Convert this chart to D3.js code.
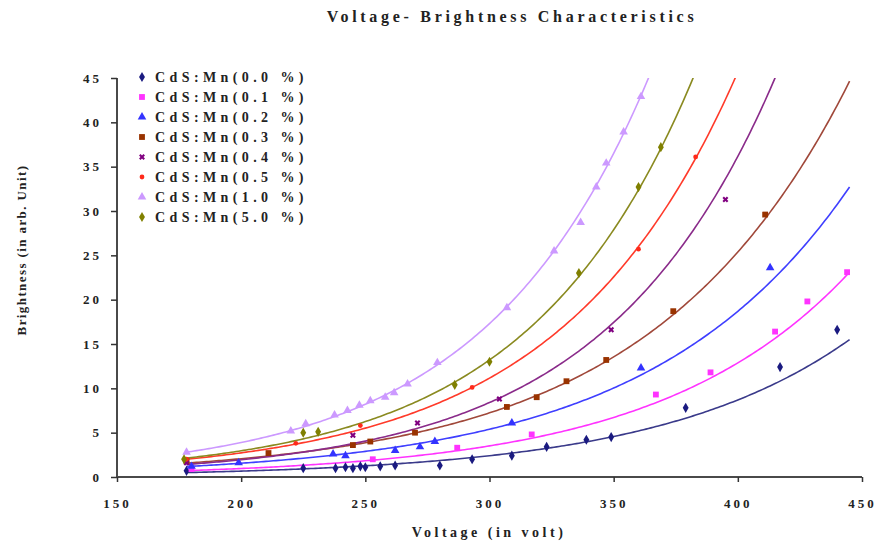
<!DOCTYPE html>
<html>
<head>
<meta charset="utf-8">
<script src="https://cdn.jsdelivr.net/npm/d3@7/dist/d3.min.js"></script>
<style>
  html, body { margin: 0; padding: 0; background: #fff; }
  svg text { font-family: "Liberation Serif", "Times New Roman", serif; font-weight: bold; fill: #222; }
</style>
</head>
<body>
<svg id="chart" width="877" height="543"></svg>
<script>
// Series labels (Mn doping level)
const seriesNames = ["CdS:Mn(0.0 %)", "CdS:Mn(0.1 %)", "CdS:Mn(0.2 %)", "CdS:Mn(0.3 %)",
                     "CdS:Mn(0.4 %)", "CdS:Mn(0.5 %)", "CdS:Mn(1.0 %)", "CdS:Mn(5.0 %)"];

// Measured brightness (arb. unit) against applied voltage (V), as [voltage, brightness]
const mn00 = [[178,0.7],[225,1.0],[238,1.0],[242,1.1],[245,1.0],[248,1.2],[250,1.1],[256,1.2],[262,1.3],
              [280,1.3],[293,2.0],[309,2.4],[323,3.4],[339,4.2],[349,4.5],[379,7.8],[417,12.4],[440,16.6]];
const mn01 = [[180,0.9],[253,2.0],[287,3.3],[317,4.8],[367,9.3],[389,11.8],[415,16.4],[428,19.8],[444,23.1]];
const mn02 = [[180,1.2],[199,1.6],[237,2.6],[242,2.4],[262,3.0],[272,3.4],[278,4.0],[309,6.1],[361,12.3],[413,23.6]];
const mn03 = [[178,1.8],[211,2.7],[245,3.6],[252,4.0],[270,5.0],[307,7.9],[319,9.0],[331,10.8],[347,13.2],[374,18.7],[411,29.6]];
const mn04 = [[178,1.6],[245,4.7],[271,6.1],[304,8.8],[349,16.6],[395,31.3]];
const mn05 = [[178,2.0],[222,3.8],[248,5.8],[293,10.1],[360,25.7],[383,36.1]];
const mn10 = [[178,2.8],[220,5.2],[226,6.0],[237.6,7.0],[242.8,7.5],[247.6,8.1],[252,8.6],[258,9.0],[261.6,9.5],
              [267,10.5],[279,12.9],[307,19.1],[326,25.5],[336.7,28.7],[343,32.7],[347,35.4],[354,38.9],[361,42.9]];
const mn50 = [[177,2.0],[225,5.0],[231,5.1],[286,10.4],[300,13.0],[336,23.0],[360,32.7],[369,37.2]];
const seriesData = [mn00, mn01, mn02, mn03, mn04, mn05, mn10, mn50];

// Exponential trendlines y = a * exp(b * V), drawn over the measured voltage span
const trendA = [0.0507, 0.0710, 0.1290, 0.1676, 0.1052, 0.1623, 0.1963, 0.1484];
const trendB = [0.01286, 0.0130, 0.01244, 0.01255, 0.0146, 0.0141, 0.01493, 0.01496];
const trendStart = 178;
const trendEnd = 445;

// Axis ticks
const xTicks = [150, 200, 250, 300, 350, 400, 450];
const yTicks = [0, 5, 10, 15, 20, 25, 30, 35, 40, 45];

// Styling
const colors = ["#1a1a80", "#ff33ff", "#3333ff", "#993300", "#800080", "#ff2a1a", "#cc99ff", "#808000"];
const lineColors = ["#3a3a8a", "#ff33ff", "#3f3fff", "#a0483a", "#8a2b8a", "#ff3a2a", "#cc99ff", "#8a8a20"];
const symbols = [d3.symbolDiamond, d3.symbolSquare, d3.symbolTriangle, d3.symbolSquare,
                 d3.symbolCross, d3.symbolCircle, d3.symbolTriangle, d3.symbolDiamond];
const symSizes = [30, 34, 32, 34, 22, 18, 32, 30];

const svg = d3.select("#chart");
const x = d3.scaleLinear().domain([150, 450]).range([117, 862]);
const y = d3.scaleLinear().domain([0, 45]).range([477, 78]);

// Plot clip region
svg.append("defs").append("clipPath").attr("id", "plotClip")
  .append("rect").attr("x", x(150)).attr("y", y(45)).attr("width", x(450) - x(150) + 2).attr("height", y(0) - y(45));

// Title
svg.append("text").attr("x", 512).attr("y", 22).attr("text-anchor", "middle")
  .style("font-size", "16px").style("letter-spacing", "3.7px")
  .text("Voltage- Brightness Characteristics");

// Axes
const xAxis = d3.axisBottom(x).tickValues(xTicks).tickSize(5).tickPadding(17);
const gx = svg.append("g").attr("transform", `translate(0,${y(0)})`).call(xAxis);
const yAxis = d3.axisLeft(y).tickValues(yTicks).tickSize(6).tickPadding(11);
const gy = svg.append("g").attr("transform", `translate(${x(150)},0)`).call(yAxis);
[gx, gy].forEach(g => {
  g.select(".domain").attr("stroke", "#4a4a4a").attr("stroke-width", 2);
  g.selectAll(".tick line").attr("stroke", "#333").attr("stroke-width", 1.5);
  g.selectAll(".tick text").style("font-family", "'Liberation Serif', serif")
    .style("font-weight", "bold").style("font-size", "13px").style("letter-spacing", "3px").attr("fill", "#333");
});
gx.select(".domain").attr("d", `M${x(150)},0H${x(450)}`);
gy.select(".domain").attr("d", `M0,${y(45)}V${y(0)}`);
gy.selectAll(".tick text").attr("dx", "2px");

// Axis titles
svg.append("text").attr("x", 489).attr("y", 537).attr("text-anchor", "middle")
  .style("font-size", "14px").style("letter-spacing", "3.5px").text("Voltage (in volt)");
svg.append("text").attr("transform", `translate(26,250) rotate(-90)`).attr("text-anchor", "middle")
  .style("font-size", "13px").style("letter-spacing", "1.4px").text("Brightness (in arb. Unit)");

// Trendlines
const plot = svg.append("g").attr("clip-path", "url(#plotClip)");
const line = d3.line().x(d => x(d[0])).y(d => y(d[1]));
seriesData.forEach((pts, i) => {
  const vEnd = Math.min(trendEnd, Math.log(46 / trendA[i]) / trendB[i]);
  const curve = d3.range(trendStart, vEnd + 1, 1).map(v => [v, trendA[i] * Math.exp(trendB[i] * v)]);
  plot.append("path").datum(curve).attr("d", line)
    .attr("fill", "none").attr("stroke", lineColors[i]).attr("stroke-width", 1.6);
});

// Data markers
seriesData.forEach((pts, i) => {
  plot.append("g").selectAll("path").data(pts).join("path")
    .attr("transform", d => `translate(${x(d[0])},${y(d[1])})` + (i === 4 ? " rotate(45)" : ""))
    .attr("d", d3.symbol().type(symbols[i]).size(symSizes[i]))
    .attr("fill", colors[i]);
});

// Legend
const legend = svg.append("g");
seriesNames.forEach((name, i) => {
  const ly = 77 + i * 20;
  legend.append("path")
    .attr("transform", `translate(142,${ly})` + (i === 4 ? " rotate(45)" : ""))
    .attr("d", d3.symbol().type(symbols[i]).size(symSizes[i]))
    .attr("fill", colors[i]);
  legend.append("text").attr("x", 155).attr("y", ly + 5)
    .style("font-size", "14px").style("letter-spacing", "4.4px").text(name);
});
</script>
</body>
</html>
